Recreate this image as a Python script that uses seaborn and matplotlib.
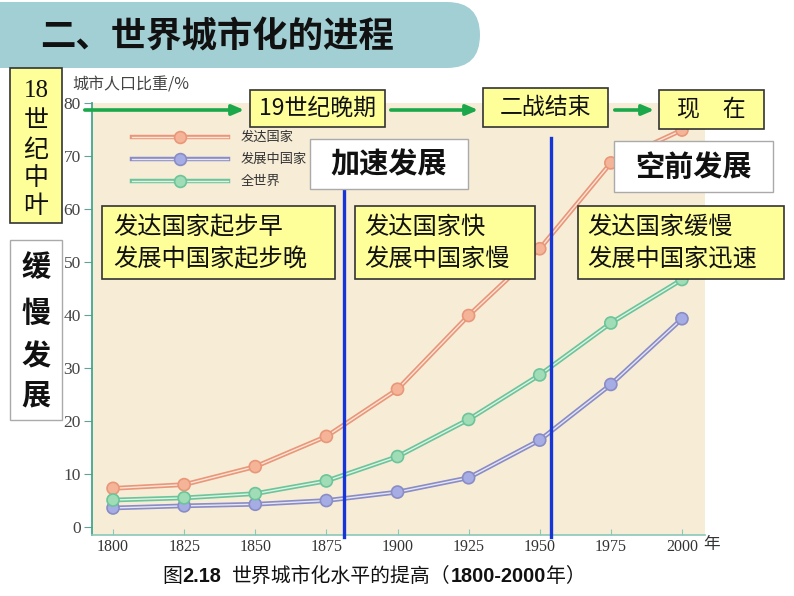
import numpy as np
import pandas as pd
import matplotlib
matplotlib.use("Agg")
import matplotlib.pyplot as plt
import seaborn as sns
from matplotlib.patches import Rectangle, FancyBboxPatch
from matplotlib.lines import Line2D

# ---------------- data ----------------
years = [1800, 1825, 1850, 1875, 1900, 1925, 1950, 1975, 2000]
developed = [7.3, 8.0, 11.4, 17.1, 26.0, 39.9, 52.5, 68.7, 74.9]
developing = [3.6, 4.0, 4.3, 5.0, 6.6, 9.3, 16.4, 26.9, 39.3]
world = [5.1, 5.5, 6.3, 8.7, 13.3, 20.3, 28.7, 38.5, 46.7]
series_names = ["发达国家", "发展中国家", "全世界"]
y_ticks = [0, 10, 20, 30, 40, 50, 60, 70, 80]
x_ticks = years

df = pd.DataFrame({
    "year": years * 3,
    "value": developed + developing + world,
    "series": [series_names[0]] * 9 + [series_names[1]] * 9 + [series_names[2]] * 9,
})

outer = {"发达国家": "#e8977a", "发展中国家": "#8a8cc6", "全世界": "#6cc49a"}
inner = {"发达国家": "#fde4d6", "发展中国家": "#e6e6f6", "全世界": "#def3e6"}
mface = {"发达国家": "#f5b497", "发展中国家": "#a6ace4", "全世界": "#a0dcb6"}

W, H = 794, 596
fig = plt.figure(figsize=(W / 100, H / 100), dpi=100)
fig.patch.set_facecolor("white")

CJK = ["Noto Sans CJK SC", "DejaVu Sans"]
SERIF = ["Liberation Serif", "Noto Sans CJK SC"]
SANS = ["Liberation Sans", "DejaVu Sans"]

def fx(x):
    return x / W

def fy(y):
    return 1 - y / H

ax = fig.add_axes([fx(92), fy(535), fx(705) - fx(92), fy(103) - fy(535)])
ax.set_facecolor("#f7ecd6")

sns.lineplot(data=df, x="year", y="value", hue="series", palette=outer,
             lw=3.4, legend=False, ax=ax, zorder=2)
sns.lineplot(data=df, x="year", y="value", hue="series", palette=inner,
             lw=1.0, legend=False, ax=ax, zorder=3)
sns.scatterplot(data=df, x="year", y="value", hue="series", palette=mface,
                s=75, edgecolor=[outer[s] for s in df["series"]], linewidth=1.2,
                legend=False, ax=ax, zorder=4)

ax.set_xlim(1792.6, 2008.1)
ax.set_ylim(-1.5, 80)
ax.set_xticks(x_ticks)
ax.set_yticks(y_ticks)
ax.set_xticklabels([str(v) for v in x_ticks], fontsize=11.5, family=SERIF, color="#333333")
ax.set_yticklabels([str(v) for v in y_ticks], fontsize=12.5, family=SERIF, color="#444444")
ax.set_xlabel("")
ax.set_ylabel("")
for s in ["top", "right"]:
    ax.spines[s].set_visible(False)
ax.spines["left"].set_color("#3fa88e")
ax.spines["left"].set_linewidth(1.3)
ax.spines["bottom"].set_color("#8cc8b8")
ax.spines["bottom"].set_linewidth(1.2)
ax.tick_params(axis="y", direction="out", length=6, color="#6a9f95", pad=2)
ax.tick_params(axis="x", direction="in", length=4, color="#8cc8b8", pad=3)
ax.grid(False)

# legend (manual)
leg_y = [137, 159, 181]
for name, yy in zip(series_names, leg_y):
    fig.add_artist(Line2D([fx(132), fx(228)], [fy(yy), fy(yy)], color=outer[name], lw=3.2, zorder=5))
    fig.add_artist(Line2D([fx(132), fx(228)], [fy(yy), fy(yy)], color=inner[name], lw=1.0, zorder=5))
    fig.add_artist(Line2D([fx(180)], [fy(yy)], marker="o", markersize=8.5,
                          markerfacecolor=mface[name], markeredgecolor=outer[name], mew=1.2, zorder=6))
    fig.text(fx(241), fy(yy), name, fontsize=9.5, family=CJK, color="#333333", va="center", ha="left", zorder=6)

# y-axis label and year label
fig.text(fx(72), fy(85), "城市人口比重/%", fontsize=11.5, family=CJK, color="#444444", va="center", ha="left")
fig.text(fx(703), fy(545), "年", fontsize=12, family=CJK, color="#333333", va="center", ha="left")

# title banner (in inches, pixel/100)
banner = FancyBboxPatch((-0.6, (H - 68) / 100), 5.4, 0.66,
                        boxstyle="round,pad=0,rounding_size=0.33",
                        facecolor="#a2cfd4", edgecolor="none", transform=fig.dpi_scale_trans, zorder=1)
fig.add_artist(banner)
fig.text(fx(40), fy(37), "二、世界城市化的进程", fontsize=25.5, fontweight="bold", family=CJK,
         color="#111111", va="center", ha="left", zorder=7)

def box(x0, y0, x1, y1, face="#ffff99", edge="#333333", lw=1.2):
    r = Rectangle((fx(x0), fy(y1)), fx(x1) - fx(x0), fy(y0) - fy(y1), transform=fig.transFigure,
                  facecolor=face, edgecolor=edge, lw=lw, zorder=6)
    fig.add_artist(r)

# blue vertical lines
fig.add_artist(Line2D([fx(344), fx(344)], [fy(190), fy(537)], color="#1535d8", lw=2.4, zorder=5))
fig.add_artist(Line2D([fx(551), fx(551)], [fy(138), fy(537)], color="#1535d8", lw=2.4, zorder=5))

# green arrows
for x0, x1 in [(82, 247), (388, 481), (612, 657)]:
    ax.annotate("", xy=(x1, H - 110), xytext=(x0, H - 110), xycoords="figure pixels",
                textcoords="figure pixels",
                arrowprops=dict(arrowstyle="-|>,head_length=0.7,head_width=0.3", color="#1aa84a", lw=2.6),
                annotation_clip=False, zorder=7)

# left vertical boxes
box(10, 68, 62, 223)
for t, yy in zip(["18", "世", "纪", "中", "叶"], [91, 122, 151, 179, 207]):
    fig.text(fx(36), fy(yy), t, fontsize=18, family=SERIF, color="#111111", ha="center", va="center", zorder=8)

box(10, 240, 62, 420, face="white", edge="#aaaaaa", lw=1.0)
for t, yy in zip(["缓", "慢", "发", "展"], [267, 313, 356, 396]):
    fig.text(fx(36), fy(yy), t, fontsize=21, fontweight="bold", family=CJK, color="#111111",
             ha="center", va="center", zorder=8)

# period boxes
box(250, 90, 385, 127)
fig.text(fx(317.5), fy(108.5), "19世纪晚期", fontsize=16.5, family=CJK, color="#111111",
         ha="center", va="center", zorder=8)
box(483, 88, 608, 127)
fig.text(fx(545.5), fy(107.5), "二战结束", fontsize=16.5, family=CJK, color="#111111",
         ha="center", va="center", zorder=8)
box(659, 90, 764, 129)
fig.text(fx(711.5), fy(109.5), "现\u3000在", fontsize=16.5, family=CJK, color="#111111",
         ha="center", va="center", zorder=8)

# white stage boxes
box(310, 139, 468, 189, face="white", edge="#aaaaaa", lw=1.0)
fig.text(fx(389), fy(164), "加速发展", fontsize=21, fontweight="bold", family=CJK, color="#111111",
         ha="center", va="center", zorder=8)
box(614, 141, 773, 192, face="white", edge="#aaaaaa", lw=1.0)
fig.text(fx(693.5), fy(166.5), "空前发展", fontsize=21, fontweight="bold", family=CJK, color="#111111",
         ha="center", va="center", zorder=8)

# yellow explanation boxes
box(102, 206, 335, 279)
fig.text(fx(113), fy(227), "发达国家起步早", fontsize=17.5, family=CJK, color="#111111", ha="left", va="center", zorder=8)
fig.text(fx(113), fy(259), "发展中国家起步晚", fontsize=17.5, family=CJK, color="#111111", ha="left", va="center", zorder=8)
box(355, 206, 535, 279)
fig.text(fx(364), fy(227), "发达国家快", fontsize=17.5, family=CJK, color="#111111", ha="left", va="center", zorder=8)
fig.text(fx(364), fy(259), "发展中国家慢", fontsize=17.5, family=CJK, color="#111111", ha="left", va="center", zorder=8)
box(578, 206, 784, 279)
fig.text(fx(587), fy(227), "发达国家缓慢", fontsize=17.5, family=CJK, color="#111111", ha="left", va="center", zorder=8)
fig.text(fx(587), fy(259), "发展中国家迅速", fontsize=17.5, family=CJK, color="#111111", ha="left", va="center", zorder=8)

# caption, laid out piece by piece
renderer = fig.canvas.get_renderer()
pieces = [("图", CJK, "normal", 0), ("2.18", SANS, "bold", 11), ("世界城市化水平的提高（", CJK, "normal", 0),
          ("1800-2000", SANS, "bold", 0), ("年）", CJK, "normal", 0)]
xcur = 162
for txt, fam, wt, gap in pieces:
    t = fig.text(fx(xcur), fy(576), txt, fontsize=14.3, fontweight=wt, family=fam, color="#111111",
                 ha="left", va="center")
    w = t.get_window_extent(renderer=renderer).width
    xcur += w + gap

fig.savefig("out.png", dpi=100)
